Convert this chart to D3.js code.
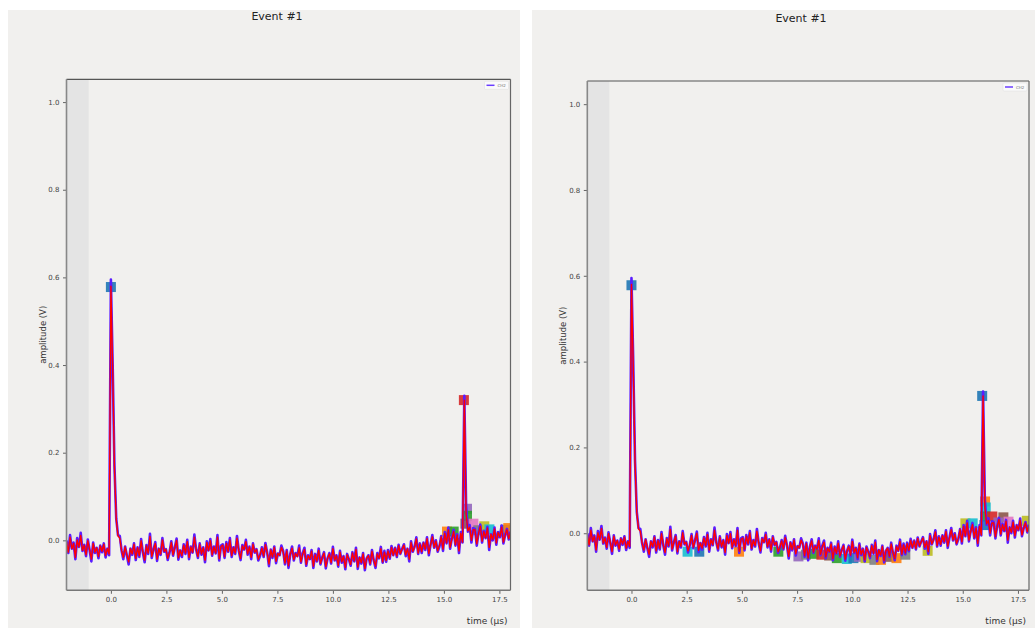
<!DOCTYPE html>
<html><head><meta charset="utf-8">
<script src="https://cdn.jsdelivr.net/npm/d3@7"></script>
<style>body{margin:0;background:#fff;} svg{display:block;font-family:"DejaVu Sans",sans-serif;}</style>
</head><body><svg id="c" width="1035" height="628"></svg>
<script>
// ---- data ----
const sampleStart = -2.0;   // µs, first sample time
const sampleStep = 0.08;    // µs between samples
const ch2Raw = [
0.000,-0.029,0.012,-0.019,-0.005,-0.043,0.005,-0.015,0.017,-0.024,
-0.010,-0.036,0.002,-0.022,-0.048,-0.005,-0.029,-0.017,-0.041,-0.012,
-0.027,-0.007,-0.039,-0.019,-0.034,
0.595,0.400,0.170,0.050,0.012,
0.010,-0.023,-0.043,-0.014,-0.035,-0.055,-0.019,-0.033,-0.007,-0.045,
-0.016,-0.038,0.003,-0.028,-0.050,-0.011,-0.031,0.015,-0.040,-0.021,
-0.004,-0.047,-0.019,-0.033,0.005,-0.026,-0.020,-0.045,-0.028,-0.002,
-0.035,-0.016,0.004,-0.044,-0.023,-0.038,-0.009,-0.031,0.001,-0.043,
-0.014,-0.028,0.013,-0.021,-0.040,-0.007,-0.033,-0.016,-0.050,-0.002,
-0.023,0.003,-0.035,-0.014,-0.030,0.012,-0.046,-0.012,-0.009,-0.040,
-0.004,-0.026,0.005,-0.038,-0.016,-0.031,0.010,-0.023,-0.045,-0.011,
-0.021,0.001,-0.033,-0.014,-0.043,-0.007,-0.028,-0.020,-0.046,-0.035,
-0.016,-0.038,-0.006,-0.028,-0.059,-0.021,-0.040,-0.014,-0.052,-0.030,
-0.034,-0.012,-0.024,-0.055,-0.022,-0.063,-0.031,-0.014,-0.046,-0.029,
-0.036,-0.012,-0.051,-0.029,-0.017,-0.058,-0.034,-0.043,-0.022,-0.063,
-0.031,-0.048,-0.019,-0.055,-0.039,-0.027,-0.064,-0.041,-0.029,-0.053,
-0.015,-0.046,-0.034,-0.060,-0.024,-0.051,-0.036,-0.066,-0.031,-0.043,
-0.058,-0.027,-0.048,-0.017,-0.065,-0.039,-0.053,-0.029,-0.068,-0.041,
-0.034,-0.055,-0.022,-0.046,-0.063,-0.029,-0.041,-0.015,-0.051,-0.024,
-0.049,-0.022,-0.042,-0.013,-0.034,-0.017,-0.038,-0.010,-0.031,-0.019,
-0.009,-0.036,-0.019,-0.048,-0.002,-0.026,-0.014,0.007,-0.031,-0.007,
-0.029,-0.005,-0.022,0.007,-0.034,-0.010,0.012,-0.017,0.000,-0.026,
-0.014,0.010,-0.024,0.019,-0.007,0.029,-0.019,0.005,0.024,-0.012,
0.014,-0.029,0.019,-0.005,
0.330,
0.080,0.020,0.035,-0.005,0.028,
0.026,-0.012,0.017,0.036,-0.005,0.022,0.005,0.031,-0.022,0.014,
0.000,0.029,-0.010,0.019,0.007,0.034,-0.007,0.012,0.026,0.002,
0.020];
const ch2Filtered = [
-0.003,-0.027,0.007,-0.019,-0.007,-0.039,0.001,-0.015,0.011,-0.023,
-0.011,-0.033,-0.001,-0.021,-0.043,-0.007,-0.027,-0.017,-0.037,-0.013,
-0.025,-0.009,-0.035,-0.019,-0.031,
0.580,0.390,0.165,0.048,0.010,
0.005,-0.023,-0.039,-0.015,-0.033,-0.049,-0.019,-0.031,-0.009,-0.041,
-0.017,-0.035,-0.001,-0.027,-0.045,-0.013,-0.029,0.009,-0.037,-0.021,
-0.007,-0.043,-0.019,-0.031,0.001,-0.025,-0.021,-0.041,-0.027,-0.005,
-0.033,-0.017,0.000,-0.040,-0.023,-0.035,-0.011,-0.029,-0.003,-0.039,
-0.015,-0.027,0.007,-0.021,-0.037,-0.009,-0.031,-0.017,-0.045,-0.005,
-0.023,-0.001,-0.033,-0.015,-0.029,0.007,-0.042,-0.014,-0.011,-0.037,
-0.007,-0.025,0.001,-0.035,-0.017,-0.029,0.005,-0.023,-0.041,-0.013,
-0.021,-0.003,-0.031,-0.015,-0.039,-0.009,-0.027,-0.021,-0.043,-0.033,
-0.018,-0.036,-0.010,-0.028,-0.054,-0.022,-0.038,-0.016,-0.048,-0.030,
-0.034,-0.016,-0.026,-0.052,-0.024,-0.058,-0.032,-0.018,-0.044,-0.030,
-0.037,-0.017,-0.049,-0.031,-0.021,-0.055,-0.035,-0.043,-0.025,-0.059,
-0.033,-0.047,-0.023,-0.053,-0.039,-0.029,-0.060,-0.041,-0.031,-0.051,
-0.019,-0.045,-0.035,-0.057,-0.027,-0.049,-0.037,-0.062,-0.033,-0.043,
-0.055,-0.029,-0.047,-0.021,-0.061,-0.039,-0.051,-0.031,-0.064,-0.041,
-0.035,-0.053,-0.025,-0.045,-0.059,-0.031,-0.041,-0.019,-0.049,-0.027,
-0.046,-0.024,-0.040,-0.016,-0.034,-0.018,-0.036,-0.012,-0.030,-0.020,
-0.011,-0.033,-0.019,-0.043,-0.005,-0.025,-0.015,0.003,-0.029,-0.009,
-0.026,-0.006,-0.020,0.004,-0.030,-0.010,0.008,-0.016,-0.002,-0.024,
-0.012,0.008,-0.020,0.016,-0.006,0.024,-0.016,0.004,0.020,-0.010,
0.012,-0.024,0.016,-0.004,
0.320,
0.060,0.022,0.030,0.000,0.024,
0.024,-0.008,0.016,0.032,-0.002,0.020,0.006,0.028,-0.016,0.014,
0.002,0.026,-0.006,0.018,0.008,0.030,-0.004,0.012,0.024,0.004,
0.018];

// detected features (time µs, amplitude V, tab10 colour index)
const leftMarkT = [0.0, 15.90, 15.14, 15.44, 16.04, 16.04, 15.97, 16.33, 16.55, 16.82, 17.05, 17.77, 17.90];
const leftMarkV = [0.578, 0.320, 0.020, 0.020, 0.072, 0.056, 0.038, 0.038, 0.023, 0.032, 0.025, 0.024, 0.028];
const leftMarkC = [0, 3, 1, 2, 4, 2, 5, 6, 7, 8, 9, 0, 1];

const rightMarkT = [0.0, 15.88, 2.54, 3.07, 4.87, 6.65, 7.56, 7.9, 8.25, 8.6, 8.95, 9.3, 9.75, 10.05, 10.3, 10.6, 11.0, 11.3, 11.7, 12.0, 12.4, 13.41, 15.12, 15.45, 16.01, 16.04, 16.01, 15.98, 16.34, 16.84, 17.07, 16.61, 17.90];
const rightMarkV = [0.578, 0.320, -0.043, -0.043, -0.043, -0.043, -0.054, -0.050, -0.048, -0.050, -0.052, -0.058, -0.060, -0.058, -0.055, -0.058, -0.062, -0.062, -0.055, -0.058, -0.050, -0.041, 0.023, 0.023, 0.074, 0.060, 0.039, 0.019, 0.039, 0.037, 0.027, 0.025, 0.029];
const rightMarkC = [0, 0, 9, 0, 1, 2, 4, 7, 2, 3, 5, 2, 9, 0, 4, 8, 7, 1, 5, 1, 7, 8, 8, 9, 1, 9, 2, 0, 3, 5, 6, 4, 8];

const xTicks = [0.0, 2.5, 5.0, 7.5, 10.0, 12.5, 15.0, 17.5];
const yTicks = [0.0, 0.2, 0.4, 0.6, 0.8, 1.0];
const legendLabel = "CH2";
const titleText = "Event #1";
const xLabelText = "time (\u03bcs)";
const yLabelText = "amplitude (V)";
const shadeRange = [-2.0, -1.0];

// ---- drawing ----
const tab10 = ["#1f77b4","#ff7f0e","#2ca02c","#d62728","#9467bd","#8c564b","#e377c2","#7f7f7f","#bcbd22","#17becf"];
const samples = ch2Raw.map((v, i) => ({t: sampleStart + i * sampleStep, raw: v, filt: ch2Filtered[i]}));
const svg = d3.select("#c");

function panel(cfg) {
  const g = svg.append("g");
  g.append("rect").attr("x", cfg.fig[0]).attr("y", cfg.fig[1]).attr("width", cfg.fig[2]).attr("height", cfg.fig[3]).attr("fill", "#f1f0ee");
  const [ax, ay, aw, ah] = cfg.axes;
  const x = d3.scaleLinear().domain(cfg.xDom).range([ax, ax + aw]);
  const y = d3.scaleLinear().domain(cfg.yDom).range([ay + ah, ay]);
  const clipId = "clip" + cfg.id;
  svg.append("clipPath").attr("id", clipId).append("rect").attr("x", ax).attr("y", ay).attr("width", aw).attr("height", ah);

  g.append("rect").attr("x", x(shadeRange[0])).attr("y", ay).attr("width", x(shadeRange[1]) - x(shadeRange[0])).attr("height", ah).attr("fill", "#e4e4e4");

  const plot = g.append("g").attr("clip-path", `url(#${clipId})`);
  const marks = cfg.mt.map((t, i) => ({t, v: cfg.mv[i], c: cfg.mc[i]}));
  plot.selectAll("rect.m").data(marks).enter().append("rect").attr("class", "m")
    .attr("x", d => x(d.t) - 5).attr("y", d => y(d.v) - 5).attr("width", 10).attr("height", 10)
    .attr("fill", d => tab10[d.c]).attr("fill-opacity", 0.9);

  const lineRaw = d3.line().x(d => x(d.t)).y(d => y(d.raw));
  const lineFilt = d3.line().x(d => x(d.t)).y(d => y(d.filt));
  plot.append("path").datum(samples).attr("d", lineRaw).attr("fill", "none").attr("stroke", "#5a1cff").attr("stroke-width", 2.6).attr("stroke-linejoin", "round");
  plot.append("path").datum(samples).attr("d", lineFilt).attr("fill", "none").attr("stroke", "#ff0000").attr("stroke-width", 1.4).attr("stroke-linejoin", "round");

  // axes
  const xa = g.append("g").attr("transform", `translate(0,${ay + ah})`)
    .call(d3.axisBottom(x).tickValues(xTicks).tickFormat(d3.format(".1f")).tickSize(3.5).tickPadding(3.5));
  const ya = g.append("g").attr("transform", `translate(${ax},0)`)
    .call(d3.axisLeft(y).tickValues(yTicks).tickFormat(d3.format(".1f")).tickSize(3.5).tickPadding(3.5));
  [xa, ya].forEach(a => {
    a.select(".domain").remove();
    a.selectAll("line").attr("stroke", "#555").attr("stroke-width", 0.9);
    a.selectAll("text").attr("font-size", 7).attr("fill", "#444").attr("font-family", "DejaVu Sans");
  });
  // spines
  g.append("line").attr("x1", ax).attr("x2", ax + aw).attr("y1", ay).attr("y2", ay).attr("stroke", "#555").attr("stroke-width", 1.2);
  g.append("line").attr("x1", ax + aw).attr("x2", ax + aw).attr("y1", ay).attr("y2", ay + ah).attr("stroke", "#666").attr("stroke-width", 1.2);
  g.append("line").attr("x1", ax).attr("x2", ax).attr("y1", ay).attr("y2", ay + ah).attr("stroke", "#888").attr("stroke-width", 1.6);
  g.append("line").attr("x1", ax).attr("x2", ax + aw).attr("y1", ay + ah).attr("y2", ay + ah).attr("stroke", "#777").attr("stroke-width", 1.4);

  // labels
  g.append("text").attr("x", cfg.titleX).attr("y", cfg.titleY).attr("text-anchor", "middle").attr("font-size", 11).attr("fill", "#222").text(titleText);
  g.append("text").attr("x", ax + aw - 3).attr("y", ay + ah + 34).attr("text-anchor", "end").attr("font-size", 9).attr("fill", "#333").text(xLabelText);
  g.append("text").attr("transform", `translate(${ax - 21},${ay + ah / 2}) rotate(-90)`).attr("text-anchor", "middle").attr("font-size", 8.5).attr("fill", "#333").text(yLabelText);

  // legend
  const lx = ax + aw - 26, ly = ay + 2;
  g.append("rect").attr("x", lx).attr("y", ly).attr("width", 24).attr("height", 8).attr("fill", "#fafafa").attr("stroke", "#ddd").attr("stroke-width", 0.5).attr("rx", 1);
  g.append("line").attr("x1", lx + 2).attr("x2", lx + 10).attr("y1", ly + 4).attr("y2", ly + 4).attr("stroke", "#6a3dff").attr("stroke-width", 1.5);
  g.append("text").attr("x", lx + 13).attr("y", ly + 5.5).attr("font-size", 4).attr("fill", "#777").text(legendLabel);
}

panel({id: "L", fig: [8, 10, 512, 618], axes: [66.5, 79.3, 444, 511], xDom: [-2, 18], yDom: [-0.114, 1.052], titleX: 277, titleY: 20, mt: leftMarkT, mv: leftMarkV, mc: leftMarkC});
panel({id: "R", fig: [532, 10, 503, 618], axes: [587.3, 81, 441.7, 509.3], xDom: [-2, 18], yDom: [-0.133, 1.054], titleX: 801, titleY: 22, mt: rightMarkT, mv: rightMarkV, mc: rightMarkC});
</script></body></html>
